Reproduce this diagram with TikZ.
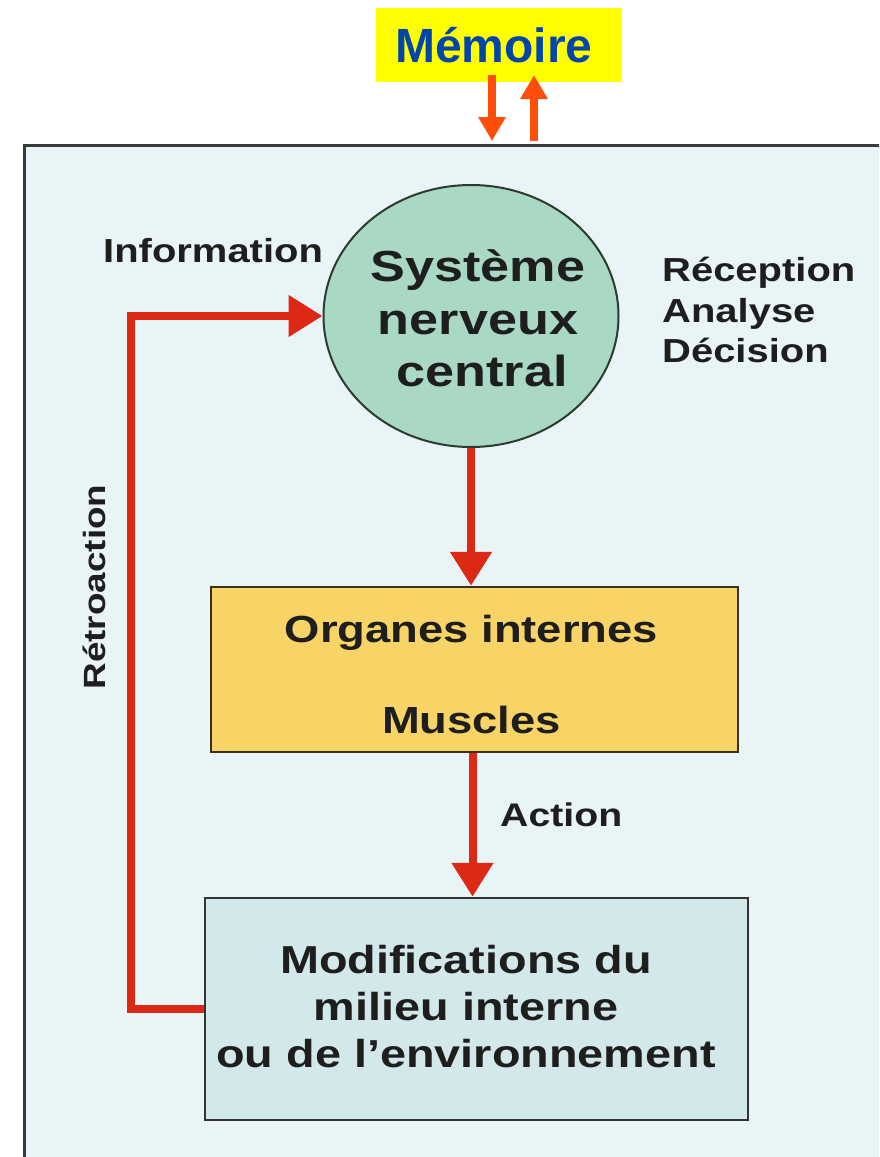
\documentclass[tikz,border=0pt]{standalone}
\usepackage{fontspec}
\setmainfont{Liberation Sans}
\newfontfamily\widefont[FakeStretch=1.2]{Liberation Sans}
\usetikzlibrary{arrows.meta,shapes.geometric,calc}
\definecolor{framefill}{HTML}{E8F4F5}
\definecolor{framedraw}{HTML}{3A3A3A}
\definecolor{mintfill}{HTML}{A9D9C4}
\definecolor{mintdraw}{HTML}{2D3B2F}
\definecolor{orgfill}{HTML}{F8D466}
\definecolor{orgdraw}{HTML}{3A3020}
\definecolor{envfill}{HTML}{D3E8EA}
\definecolor{envdraw}{HTML}{333333}
\definecolor{redc}{HTML}{DC2814}
\definecolor{memc}{HTML}{FF4D0A}
\definecolor{memblue}{HTML}{0046AA}
\definecolor{memyellow}{HTML}{FFFF00}
\definecolor{txt}{HTML}{1E1E1E}
\tikzset{
  redarrow/.style={draw=redc, line width=8pt, -{Triangle[width=40pt,length=34pt]}},
  memarrow/.style={draw=memc, line width=8pt, -{Triangle[width=26pt,length=24pt]}},
  lbl/.style={inner sep=0pt, text=txt, font=\widefont\bfseries},
  boxstyle/.style={rectangle, inner sep=0pt, line width=2.5pt},
}
\begin{document}
\begin{tikzpicture}[x=1pt,y=-1pt]
\clip (0,0) rectangle (879,1157);
\fill[white] (0,0) rectangle (879,1157);
% frame
\fill[framefill] (24,145) rectangle (900,1180);
\draw[framedraw, line width=3pt] (24,1180) -- (24,145) -- (900,145);
% memoire
\node[rectangle, fill=memyellow, minimum width=246pt, minimum height=74pt, inner sep=0pt] (mem) at (499,45) {};
\node[anchor=base, inner sep=0pt, text=memblue, font=\bfseries\fontsize{48}{56}\selectfont] (memtxt) at (494,62) {Mémoire};
\coordinate (mdown0) at (492,75);
\coordinate (mdown1) at (492,141);
\coordinate (mup0) at (534,141);
\coordinate (mup1) at (534,75);
\draw[memarrow] (mdown0) -- (mdown1);
\draw[memarrow] (mup0) -- (mup1);
% central nervous system
\node[ellipse, draw=mintdraw, fill=mintfill, line width=2pt, minimum width=295pt, minimum height=262pt, inner sep=0pt] (snc) at (471,316) {};
\node[lbl, anchor=base, font=\widefont\bfseries\fontsize{43.5}{50}\selectfont] (snc1) at (478,281) {Système};
\node[lbl, anchor=base, font=\widefont\bfseries\fontsize{43.5}{50}\selectfont] (snc2) at (478,334) {nerveux};
\node[lbl, anchor=base, font=\widefont\bfseries\fontsize{43.5}{50}\selectfont] (snc3) at (482,386) {central};
% side labels
\node[lbl, anchor=base west, font=\widefont\bfseries\fontsize{33.3}{38}\selectfont] (info) at (103,262) {Information};
\node[lbl, anchor=base west, font=\widefont\bfseries\fontsize{33.3}{38}\selectfont] (rec) at (662,281) {Réception};
\node[lbl, anchor=base west, font=\widefont\bfseries\fontsize{33.3}{38}\selectfont] (ana) at (662,322) {Analyse};
\node[lbl, anchor=base west, font=\widefont\bfseries\fontsize{33.3}{38}\selectfont] (dec) at (662,362) {Décision};
% organs box
\node[boxstyle, draw=orgdraw, fill=orgfill, minimum width=527pt, minimum height=165pt] (org) at (474.5,669.5) {};
\node[lbl, anchor=base, font=\widefont\bfseries\fontsize{37.8}{44}\selectfont] (org1) at (471.5,642) {Organes internes};
\node[lbl, anchor=base, font=\widefont\bfseries\fontsize{37.8}{44}\selectfont] (org2) at (471.5,733) {Muscles};
% environment box
\node[boxstyle, draw=envdraw, fill=envfill, minimum width=543pt, minimum height=222pt] (env) at (476.5,1009) {};
\node[lbl, anchor=base, font=\widefont\bfseries\fontsize{39}{46}\selectfont] (env1) at (466,973) {Modifications du};
\node[lbl, anchor=base, font=\widefont\bfseries\fontsize{39}{46}\selectfont] (env2) at (466,1020) {milieu interne};
\node[lbl, anchor=base, font=\widefont\bfseries\fontsize{39}{46}\selectfont] (env3) at (466,1067) {ou de l’environnement};
% action label
\node[lbl, anchor=base west, font=\widefont\bfseries\fontsize{32.7}{38}\selectfont] (act) at (500,826) {Action};
% retroaction label
\node[lbl, anchor=base, rotate=90, font=\widefont\bfseries\fontsize{30.7}{36}\selectfont] (retro) at (105,587) {Rétroaction};
% connectors
\draw[redarrow] (snc.south) -- (snc.south |- org.north);
\draw[redarrow] ($(org.south)+(-2,0)$) -- ($(org.south |- env.north)+(-2,0)$);
\draw[redarrow] (env.west) -- ++(-73,0) |- (snc.west);
\end{tikzpicture}
\end{document}
